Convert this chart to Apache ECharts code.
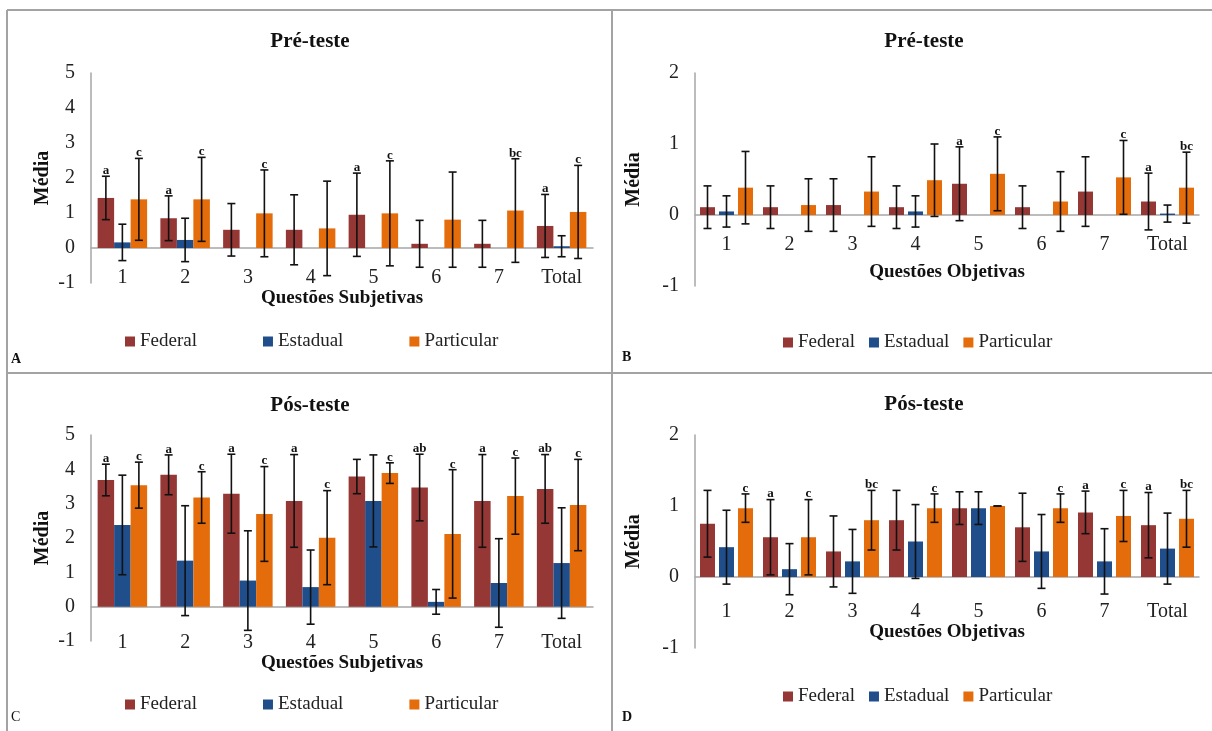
<!DOCTYPE html>
<html><head><meta charset="utf-8">
<script src="https://cdn.jsdelivr.net/npm/echarts@6/dist/echarts.min.js"></script>
<style>html,body{margin:0;padding:0;background:#fff}#c{width:1212px;height:731px}</style>
</head><body><div id="c"></div>
<script>
const categories = ['1','2','3','4','5','6','7','Total'];
const seriesNames = ['Federal','Estadual','Particular'];
const colors = ['#953735','#1f4e8a','#e46c0a'];
const yRangeSubj = [-1, 5];
const yRangeObj = [-1, 2];

// Panel A: Pré-teste, Questões Subjetivas
const aFederal    = [1.43, 0.85, 0.52, 0.52, 0.95, 0.12, 0.12, 0.63];
const aFederalErr = [0.62, 0.64, 0.75, 1.00, 1.19, 0.67, 0.67, 0.90];
const aEstadual   = [0.16, 0.23, 0, 0, 0, 0, 0, 0.05];
const aEstadualErr= [0.52, 0.62, 0, 0, 0, 0, 0, 0.30];
const aParticular = [1.39, 1.39, 0.99, 0.56, 0.99, 0.81, 1.07, 1.03];
const aParticularErr=[1.17, 1.20, 1.24, 1.35, 1.50, 1.36, 1.48, 1.33];
const aFederalLab = ['a','a','','','a','','','a'];
const aParticularLab = ['c','c','c','','c','','bc','c'];

// Panel B: Pré-teste, Questões Objetivas
const bFederal    = [0.11, 0.11, 0.14, 0.11, 0.44, 0.11, 0.33, 0.19];
const bFederalErr = [0.30, 0.30, 0.37, 0.30, 0.52, 0.30, 0.49, 0.40];
const bEstadual   = [0.05, 0, 0, 0.05, 0, 0, 0, 0.02];
const bEstadualErr= [0.22, 0, 0, 0.22, 0, 0, 0, 0.12];
const bParticular = [0.385, 0.14, 0.33, 0.49, 0.58, 0.19, 0.53, 0.385];
const bParticularErr=[0.51, 0.37, 0.49, 0.51, 0.52, 0.42, 0.52, 0.50];
const bFederalLab = ['','','','','a','','','a'];
const bParticularLab = ['','','','','c','','c','bc'];

// Panel C: Pós-teste, Questões Subjetivas
const cFederal    = [3.69, 3.84, 3.29, 3.08, 3.79, 3.47, 3.08, 3.43];
const cFederalErr = [0.46, 0.58, 1.15, 1.35, 0.50, 0.97, 1.35, 1.00];
const cEstadual   = [2.38, 1.34, 0.76, 0.57, 3.08, 0.14, 0.69, 1.27];
const cEstadualErr= [1.45, 1.60, 1.45, 1.08, 1.34, 0.36, 1.29, 1.61];
const cParticular = [3.54, 3.18, 2.70, 2.01, 3.89, 2.12, 3.22, 2.96];
const cParticularErr=[0.67, 0.75, 1.38, 1.37, 0.30, 1.87, 1.11, 1.33];
const cFederalLab = ['a','a','a','a','','ab','a','ab'];
const cParticularLab = ['c','c','c','c','c','c','c','c'];

// Panel D: Pós-teste, Questões Objetivas
const dFederal    = [0.75, 0.56, 0.36, 0.80, 0.97, 0.70, 0.91, 0.73];
const dFederalErr = [0.47, 0.53, 0.50, 0.42, 0.23, 0.48, 0.30, 0.46];
const dEstadual   = [0.42, 0.11, 0.22, 0.50, 0.97, 0.36, 0.22, 0.40];
const dEstadualErr= [0.52, 0.36, 0.45, 0.52, 0.23, 0.52, 0.46, 0.50];
const dParticular = [0.97, 0.56, 0.80, 0.97, 1.00, 0.97, 0.86, 0.82];
const dParticularErr=[0.20, 0.53, 0.42, 0.20, 0.00, 0.20, 0.36, 0.40];
const dFederalLab = ['','a','','','','','a','a'];
const dParticularLab = ['c','c','bc','c','','c','c','bc'];

const SERIF = '"Liberation Serif", "DejaVu Serif", serif';

const panels = [
  {title:'Pré-teste', xName:'Questões Subjetivas', range:yRangeSubj,
   vals:[aFederal,aEstadual,aParticular], errs:[aFederalErr,aEstadualErr,aParticularErr],
   labs:[aFederalLab,[],aParticularLab],
   grid:{left:91, top:73, width:502, height:210}, barW:16.5, gapPx:0,
   titleX:305, titleTop:26, labelMargin:-15, xNameGap:5, yNameGap:38,
   legend:{left:120, top:327, itemGap:66}, letter:{t:'A', x:11, y:360, w:'bold'}},
  {title:'Pré-teste', xName:'Questões Objetivas', range:yRangeObj,
   vals:[bFederal,bEstadual,bParticular], errs:[bFederalErr,bEstadualErr,bParticularErr],
   labs:[bFederalLab,[],bParticularLab],
   grid:{left:695, top:73, width:504, height:213}, barW:15, gapPx:4,
   titleX:919, titleTop:26, labelMargin:-51, xNameGap:-23, yNameGap:51,
   legend:{left:778, top:328, itemGap:14}, letter:{t:'B', x:622, y:358, w:'bold'}},
  {title:'Pós-teste', xName:'Questões Subjetivas', range:yRangeSubj,
   vals:[cFederal,cEstadual,cParticular], errs:[cFederalErr,cEstadualErr,cParticularErr],
   labs:[cFederalLab,[],cParticularLab],
   grid:{left:91, top:435, width:502, height:206}, barW:16.5, gapPx:0,
   titleX:305, titleTop:390, labelMargin:-8, xNameGap:11, yNameGap:38,
   legend:{left:120, top:690, itemGap:66}, letter:{t:'C', x:11, y:718, w:'normal'}},
  {title:'Pós-teste', xName:'Questões Objetivas', range:yRangeObj,
   vals:[dFederal,dEstadual,dParticular], errs:[dFederalErr,dEstadualErr,dParticularErr],
   labs:[dFederalLab,[],dParticularLab],
   grid:{left:695, top:435, width:504, height:213}, barW:15, gapPx:4,
   titleX:919, titleTop:389, labelMargin:-46, xNameGap:-30, yNameGap:51,
   legend:{left:778, top:682, itemGap:14}, letter:{t:'D', x:622, y:718, w:'bold'}}
];

const option = {
  animation:false,
  backgroundColor:'#fff',
  title:[], legend:[], grid:[], xAxis:[], yAxis:[], series:[], graphic:[]
};

panels.forEach((p, pi) => {
  option.title.push({text:p.title, left:p.titleX, top:p.titleTop, textAlign:'center',
    textStyle:{fontFamily:SERIF, fontWeight:'bold', fontSize:21, color:'#111'}});
  option.legend.push({data:seriesNames, left:p.legend.left, top:p.legend.top, itemGap:p.legend.itemGap,
    itemWidth:10, itemHeight:10, icon:'rect', selectedMode:false,
    textStyle:{fontFamily:SERIF, fontSize:19, color:'#222'}});
  option.grid.push(Object.assign({containLabel:false}, p.grid));
  option.xAxis.push({type:'category', gridIndex:pi, data:categories,
    name:p.xName, nameLocation:'middle', nameGap:p.xNameGap,
    nameTextStyle:{fontFamily:SERIF, fontWeight:'bold', fontSize:19, color:'#111'},
    axisLine:{onZero:true, lineStyle:{color:'#a6a6a6', width:1.5}},
    axisTick:{show:false}, splitLine:{show:false},
    axisLabel:{fontFamily:SERIF, fontSize:20, color:'#222', margin:p.labelMargin, interval:0}});
  option.yAxis.push({type:'value', gridIndex:pi, min:p.range[0], max:p.range[1], interval:1,
    name:'Média', nameLocation:'middle', nameGap:p.yNameGap,
    nameTextStyle:{fontFamily:SERIF, fontWeight:'bold', fontSize:20, color:'#111'},
    axisLine:{show:true, lineStyle:{color:'#a6a6a6', width:1.5}},
    axisTick:{show:false}, splitLine:{show:false},
    axisLabel:{fontFamily:SERIF, fontSize:20, color:'#222', margin:16}});
  const items = [];
  seriesNames.forEach((n, si) => {
    option.series.push({type:'bar', name:n, xAxisIndex:pi, yAxisIndex:pi,
      data:p.vals[si], barWidth:p.barW, barGap:(p.gapPx/p.barW*100)+'%',
      itemStyle:{color:colors[si]}, silent:true});
    p.vals[si].forEach((v, ci) => {
      const e = p.errs[si][ci];
      if (v === 0 && e === 0) return;
      items.push({cat:ci, s:si, v:v, e:e, lab:(p.labs[si][ci]||'')});
    });
  });
  const step = p.barW + p.gapPx;
  option.series.push({type:'custom', name:'err'+pi, xAxisIndex:pi, yAxisIndex:pi, z:10, silent:true,
    data:items.map(d => [d.cat, d.v + d.e, d.v - d.e]),
    encode:{x:0, y:[1,2]},
    renderItem:(params, api) => {
      const d = items[params.dataIndex];
      const top = api.coord([d.cat, d.v + d.e]);
      const bot = api.coord([d.cat, d.v - d.e]);
      const x = top[0] + (d.s - 1) * step;
      const cap = 4;
      const st = {stroke:'#111', lineWidth:1.6};
      const ch = [
        {type:'line', shape:{x1:x, y1:top[1], x2:x, y2:bot[1]}, style:st},
        {type:'line', shape:{x1:x-cap, y1:top[1], x2:x+cap, y2:top[1]}, style:st},
        {type:'line', shape:{x1:x-cap, y1:bot[1], x2:x+cap, y2:bot[1]}, style:st}
      ];
      if (d.lab) ch.push({type:'text', x:x, y:top[1]+1,
        style:{text:d.lab, fill:'#111', font:'bold 13px ' + SERIF, align:'center', verticalAlign:'bottom'}});
      return {type:'group', children:ch};
    }});
  option.graphic.push({type:'text', left:p.letter.x, top:p.letter.y - 8,
    style:{text:p.letter.t, fill:'#111', font:p.letter.w + ' 14px ' + SERIF}});
});

// panel frame lines
const frame = {stroke:'#a3a3a3', lineWidth:2};
option.graphic.push(
  {type:'line', shape:{x1:7, y1:10, x2:1212, y2:10}, style:frame, silent:true},
  {type:'line', shape:{x1:7, y1:10, x2:7, y2:731}, style:frame, silent:true},
  {type:'line', shape:{x1:612, y1:10, x2:612, y2:731}, style:frame, silent:true},
  {type:'line', shape:{x1:7, y1:373, x2:1212, y2:373}, style:frame, silent:true}
);

const chart = echarts.init(document.getElementById('c'), null, {renderer:'canvas'});
chart.setOption(option);
</script></body></html>
